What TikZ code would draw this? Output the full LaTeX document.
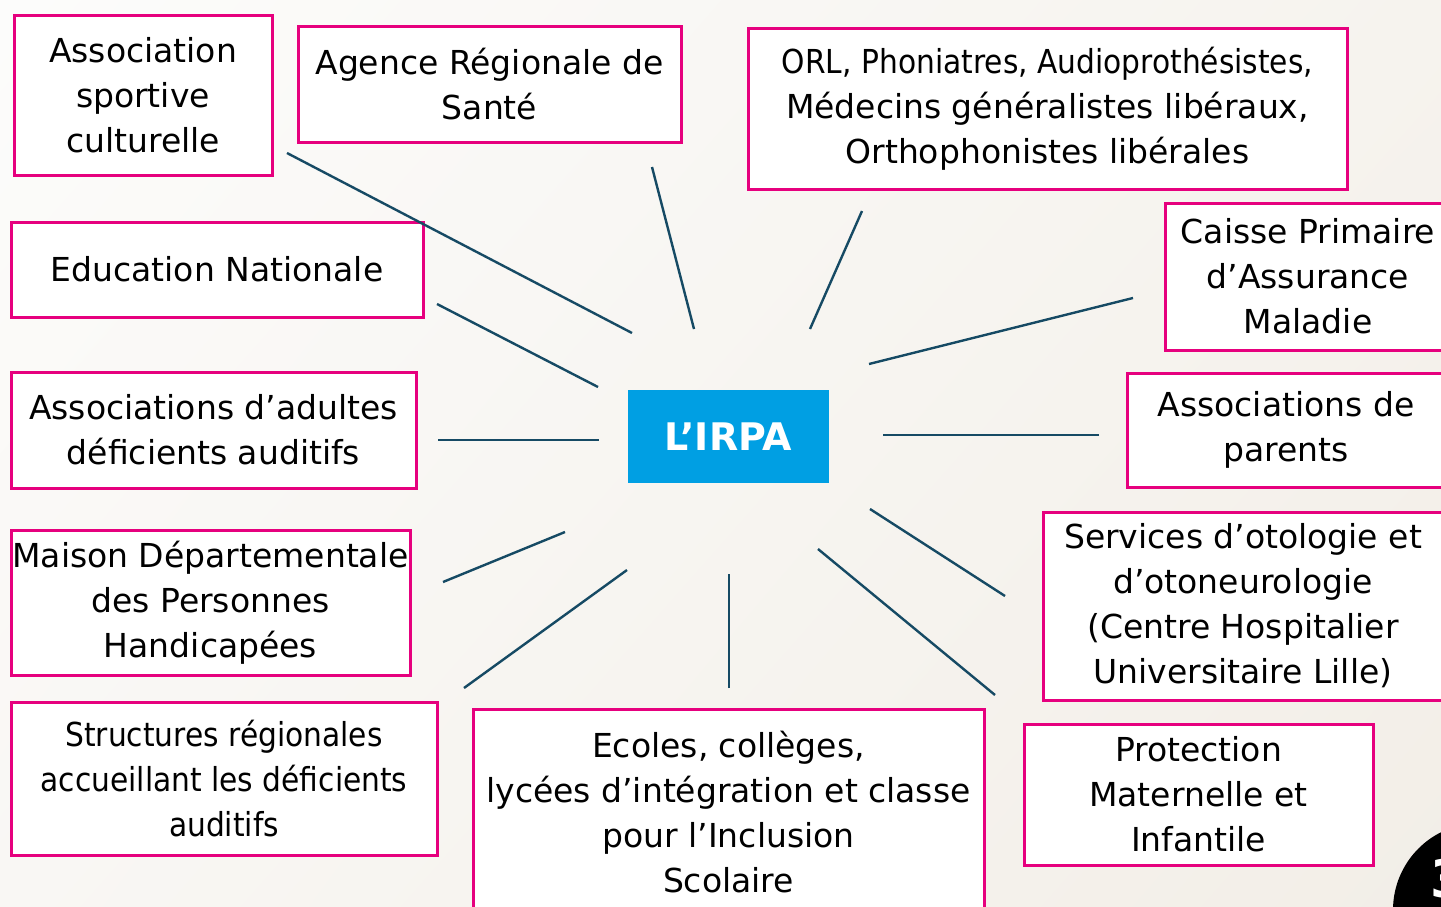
\documentclass[tikz,border=0pt]{standalone}
\usepackage{fontspec}
\usetikzlibrary{shadings}
\setmainfont{DejaVu Sans}
\newfontfamily\condfont[FakeStretch=0.9]{DejaVu Sans}
\definecolor{pinkc}{RGB}{230,0,126}
\definecolor{linkc}{RGB}{22,74,100}
\definecolor{irpac}{RGB}{0,159,227}
\definecolor{bgul}{RGB}{252,252,251}
\definecolor{bgur}{RGB}{246,243,238}
\definecolor{bgll}{RGB}{249,247,244}
\definecolor{bglr}{RGB}{242,238,231}
\begin{document}
\begin{tikzpicture}[x=0.5pt,y=-0.5pt,
  box/.style={draw=pinkc, line width=1.5pt, fill=white, align=center, inner sep=0pt,
    font=\fontsize{16.5}{22.5}\selectfont},
  hub/.style={fill=irpac, text=white, inner sep=0pt, font=\bfseries\fontsize{19}{22}\selectfont},
  link/.style={draw=linkc, line width=1.2pt}]
\useasboundingbox (0,0) rectangle (1441,906);
\clip (0,0) rectangle (1441,906);
\shade[upper left=bgul, upper right=bgur, lower left=bgll, lower right=bglr]
  (0,0) rectangle (1441,906);

% boxes
\node[box, minimum width=129pt, minimum height=80pt] (asc) at (143,95) {Association\\sportive\\culturelle};
\node[box, minimum width=191.5pt, minimum height=58pt] (ars) at (489.5,84) {Agence Régionale de\\Santé};
\node[box, minimum width=299.5pt, minimum height=80.5pt] (orl) at (1047.5,108.5)
  {{\condfont ORL, Phoniatres, Audioprothésistes,}\\Médecins généralistes libéraux,\\Orthophonistes libérales};
\node[box, minimum width=143pt, minimum height=73.5pt] (cpam) at (1308,276.5) {Caisse Primaire\\d’Assurance\\Maladie};
\node[box, minimum width=159pt, minimum height=57pt] (par) at (1286,430) {Associations de\\parents};
\node[box, minimum width=200pt, minimum height=94pt] (serv) at (1243,606)
  {Services d’otologie et\\d’otoneurologie\\(Centre Hospitalier\\Universitaire Lille)};
\node[box, minimum width=174.5pt, minimum height=70.5pt] (pmi) at (1198.5,794.5) {Protection\\Maternelle et\\Infantile};
\node[box, minimum width=255.5pt, minimum height=103pt] (eco) at (728.5,812)
  {Ecoles, collèges,\\lycées d’intégration et classe\\pour l’Inclusion\\Scolaire};
\node[box, minimum width=213pt, minimum height=76.5pt] (str) at (224,778.5)
  {\condfont Structures régionales\\\condfont accueillant les déficients\\\condfont auditifs};
\node[box, minimum width=199.5pt, minimum height=72.5pt] (mdph) at (210.5,602.5)
  {Maison Départementale\\des Personnes\\Handicapées};
\node[box, minimum width=202.5pt, minimum height=58pt] (ada) at (213.5,430) {Associations d’adultes\\déficients auditifs};
\node[box, minimum width=206pt, minimum height=47.5pt] (edn) at (217,269.5) {Education Nationale};
\node[hub, minimum width=100.5pt, minimum height=46.5pt] (irpa) at (728.5,436.5) {L’IRPA};

% connector end points
\coordinate (a1) at (287,153);  \coordinate (b1) at (632,333);
\coordinate (a2) at (652,167);  \coordinate (b2) at (694,329);
\coordinate (a3) at (862,211);  \coordinate (b3) at (810,329);
\coordinate (a4) at (1133,298); \coordinate (b4) at (869,364);
\coordinate (a5) at (1099,435); \coordinate (b5) at (883,435);
\coordinate (a6) at (1005,596); \coordinate (b6) at (870,509);
\coordinate (a7) at (995,695);  \coordinate (b7) at (818,549);
\coordinate (a8) at (729,688);  \coordinate (b8) at (729,574);
\coordinate (a9) at (464,688);  \coordinate (b9) at (627,570);
\coordinate (a10) at (443,582); \coordinate (b10) at (565,532);
\coordinate (a11) at (438,440); \coordinate (b11) at (599,440);
\coordinate (a12) at (437,304); \coordinate (b12) at (598,387);
\foreach \i in {1,...,12} {\draw[link] (a\i) -- (b\i);}

% page number badge
\fill[black] (1480,910) circle[radius=43.5pt];
\node[anchor=west, text=white, inner sep=0pt, font=\bfseries\fontsize{26}{26}\selectfont] (pg) at (1430,879) {3};
\end{tikzpicture}
\end{document}
